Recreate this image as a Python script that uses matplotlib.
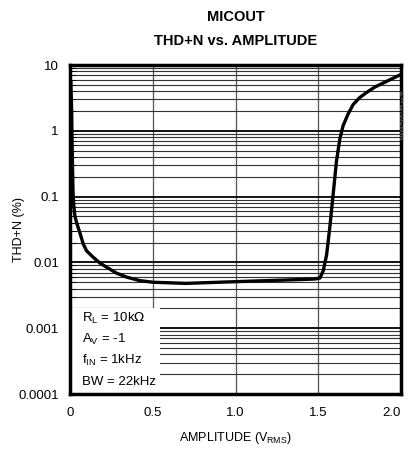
import matplotlib.pyplot as plt
from matplotlib.patches import Rectangle

plt.rcParams['font.family'] = ['Liberation Sans', 'DejaVu Sans']

amplitude = [0.005, 0.01, 0.012, 0.015, 0.018, 0.022, 0.03, 0.04, 0.06, 0.08, 0.1, 0.14,
             0.18, 0.23, 0.28, 0.34, 0.42, 0.5, 0.6, 0.7, 0.8, 0.9, 1.0, 1.1, 1.2,
             1.3, 1.4, 1.48, 1.51, 1.53, 1.55, 1.57, 1.59, 1.61, 1.63, 1.65, 1.68,
             1.71, 1.75, 1.79, 1.84, 1.89, 1.94, 2.0]
thd = [5.5, 2.0, 0.8, 0.3, 0.12, 0.075, 0.05, 0.04, 0.028, 0.019, 0.015, 0.012,
       0.0098, 0.0082, 0.0069, 0.006, 0.0053, 0.0050, 0.0049, 0.0048, 0.0049, 0.0050, 0.0051, 0.0052, 0.0053,
       0.0054, 0.0055, 0.0056, 0.0058, 0.0075, 0.013, 0.035, 0.11, 0.35, 0.75, 1.2, 1.8,
       2.5, 3.2, 3.8, 4.6, 5.3, 6.1, 7.2]

x_ticks = [0, 0.5, 1.0, 1.5, 2.0]
x_labels = ['0', '0.5', '1.0', '1.5', '2.0']
y_ticks = [0.0001, 0.001, 0.01, 0.1, 1, 10]
y_labels = ['0.0001', '0.001', '0.01', '0.1', '1', '10']
notes = [r'R$_\mathregular{L}$ = 10k$\Omega$', r'A$_\mathregular{V}$ = -1',
         r'f$_\mathregular{IN}$ = 1kHz', 'BW = 22kHz']

fig = plt.figure(figsize=(4.08, 4.58), dpi=100)
ax = fig.add_axes([0.1716, 0.1397, 0.8114, 0.7183])

ax.set_yscale('log')
ax.set_xlim(0, 2.0)
ax.set_ylim(0.0001, 10)

ax.grid(True, which='major', axis='y', color='black', linewidth=1.3)
ax.grid(True, which='minor', axis='y', color='#333333', linewidth=0.8)
ax.grid(True, which='major', axis='x', color='#555555', linewidth=0.9)

ax.plot(amplitude, thd, color='black', linewidth=2.4, zorder=4)

# white box behind the test conditions
ax.add_patch(Rectangle((0.012, 0.0001), 0.53, 0.0019, facecolor='white',
                       edgecolor='none', zorder=3))
for i, t in enumerate(notes):
    ax.text(0.07, 0.0014 / (10 ** (0.32 * i)), t, fontsize=9.5, va='center',
            ha='left', zorder=5)

ax.set_xticks(x_ticks)
ax.set_xticklabels(x_labels)
ax.set_yticks(y_ticks)
ax.set_yticklabels(y_labels)
ax.tick_params(axis='both', which='both', direction='in', labelsize=9.5, color='black')
ax.tick_params(axis='x', length=0, pad=9)
ax.tick_params(axis='y', which='major', length=0, pad=8)
ax.tick_params(axis='y', which='minor', length=4, labelleft=False)
ax.get_xticklabels()[-1].set_horizontalalignment('right')
ax.get_xticklabels()[-1].set_x(2.045)

for s in ax.spines.values():
    s.set_linewidth(2.5)
    s.set_zorder(6)

ax.set_xlabel(r'AMPLITUDE (V$_\mathregular{RMS}$)', fontsize=9, labelpad=8)
ax.set_ylabel('THD+N (%)', fontsize=9)
ax.yaxis.set_label_coords(-0.135, 0.5)

fig.text(0.5775, 0.963, 'MICOUT', ha='center', va='center', fontsize=10.5, fontweight='bold')
fig.text(0.5775, 0.91, 'THD+N vs. AMPLITUDE', ha='center', va='center', fontsize=10.5, fontweight='bold')
fig.text(0.99, 0.75, 'MAX9750/51/55 toc38', rotation=90, ha='center', va='center',
         fontsize=3.5, color='#888888')

fig.savefig('out.png', dpi=100)
